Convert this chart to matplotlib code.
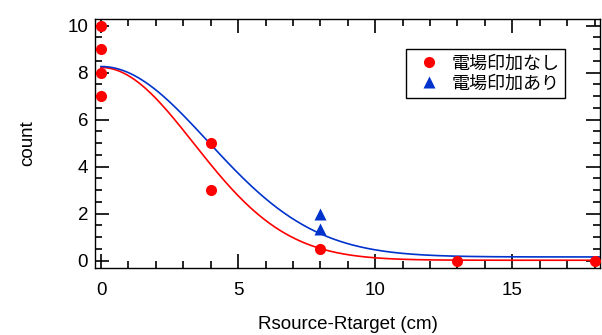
import numpy as np
import matplotlib
matplotlib.use("Agg")
import matplotlib.pyplot as plt
from matplotlib.ticker import MultipleLocator

# Data
red_x = [0, 0, 0, 0, 4, 4, 8, 13, 18]
red_y = [10, 9, 8, 7, 5, 3, 0.5, 0, 0]
blue_x = [8, 8]
blue_y = [2.0, 1.35]

# Gaussian fit parameters (amplitude, sigma, offset)
red_fit = [8.2, 3.38, 0.02]
blue_fit = [8.1, 3.9, 0.16]

labels = ["電場印加なし", "電場印加あり"]
xlabel = "Rsource-Rtarget (cm)"
ylabel = "count"

RED = "#ff0000"
BLUE = "#0033cc"

plt.rcParams['font.family'] = ['Liberation Sans', 'Noto Sans CJK JP', 'DejaVu Sans']

FS = 13.5
fig = plt.figure(figsize=(6.02, 3.35), dpi=100)
ax = fig.add_axes([95/602, 1-268/335, (600-95)/602, (268-19)/335])

xf = np.linspace(0, 18.2, 400)
def gauss(x, p):
    return p[0]*np.exp(-x**2/(2*p[1]**2)) + p[2]

ax.plot(xf, gauss(xf, red_fit), color=RED, lw=1.2, zorder=2)
ax.plot(xf, gauss(xf, blue_fit), color=BLUE, lw=1.2, zorder=2)
ax.plot(red_x, red_y, 'o', color=RED, ms=8, mec='none', label=labels[0], zorder=3)
ax.plot(blue_x, blue_y, '^', color=BLUE, ms=9, mec='none', label=labels[1], zorder=3)

ax.set_xlim(-0.22, 18.2)
ax.set_ylim(-0.31, 10.28)
ax.xaxis.set_major_locator(MultipleLocator(5))
ax.xaxis.set_minor_locator(MultipleLocator(1))
ax.yaxis.set_major_locator(MultipleLocator(2))
ax.yaxis.set_minor_locator(MultipleLocator(0.5))

ax.tick_params(which='both', direction='in', top=True, right=True, width=1.2, colors='black')
ax.tick_params(which='major', length=10)
ax.tick_params(which='minor', length=5)
ax.tick_params(axis='x', which='major', pad=10, labelsize=FS)
ax.tick_params(axis='y', which='major', pad=5, labelsize=FS)
for s in ax.spines.values():
    s.set_linewidth(1.0)

ax.set_xlabel(xlabel, fontsize=FS, labelpad=12)
ax.set_ylabel(ylabel, fontsize=FS, labelpad=22)

leg = ax.legend(loc='upper left', bbox_to_anchor=((406-95)/505, 1-(49-19)/249),
                frameon=True, fancybox=False, edgecolor='black', framealpha=1,
                prop={'family': ['Noto Sans CJK JP'], 'size': 13},
                borderpad=0.3, labelspacing=0.12, handletextpad=0.3, borderaxespad=0,
                handlelength=1.9)
leg.get_frame().set_linewidth(1.0)

fig.savefig("out.png", dpi=100)
